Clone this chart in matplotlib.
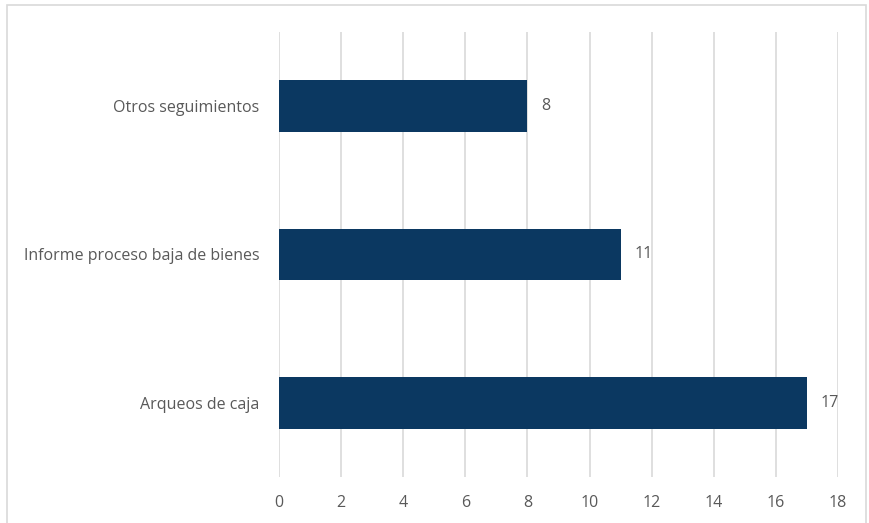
import matplotlib.pyplot as plt
from matplotlib.patches import Rectangle

categories = ['Arqueos de caja', 'Informe proceso baja de bienes', 'Otros seguimientos']
values = [17, 11, 8]
xticks = [0, 2, 4, 6, 8, 10, 12, 14, 16, 18]

plt.rcParams['font.family'] = ['Open Sans', 'DejaVu Sans']
gray = '#595959'

fig = plt.figure(figsize=(8.7, 5.23), dpi=100)
ax = fig.add_axes([279/870, 1-477/523, (838-279)/870, (477-32)/523])

# outer chart border
fig.patches.append(Rectangle((7/870, -0.05), (866-7)/870, 1-5/523+0.05,
                             transform=fig.transFigure, fill=False,
                             edgecolor='#d9d9d9', linewidth=1.2))

y = range(len(categories))
bars = ax.barh(y, values, height=0.35, color='#0b3861', zorder=3)
for b, v in zip(bars, values):
    ax.text(v + 0.45, b.get_y() + b.get_height()/2, str(v), va='center', ha='left',
            color=gray, fontsize=11.5)

ax.set_xlim(0, 18)
ax.set_ylim(-0.5, 2.5)
ax.set_xticks(xticks)
ax.set_yticks(list(y))
ax.set_yticklabels(categories)
ax.xaxis.grid(True, color='#d9d9d9', linewidth=1.2, zorder=0)
ax.tick_params(axis='both', length=0, colors=gray, labelsize=11.5)
ax.tick_params(axis='x', pad=13)
ax.tick_params(axis='y', pad=14)
for s in ax.spines.values():
    s.set_visible(False)

fig.savefig('out.png', dpi=100)
